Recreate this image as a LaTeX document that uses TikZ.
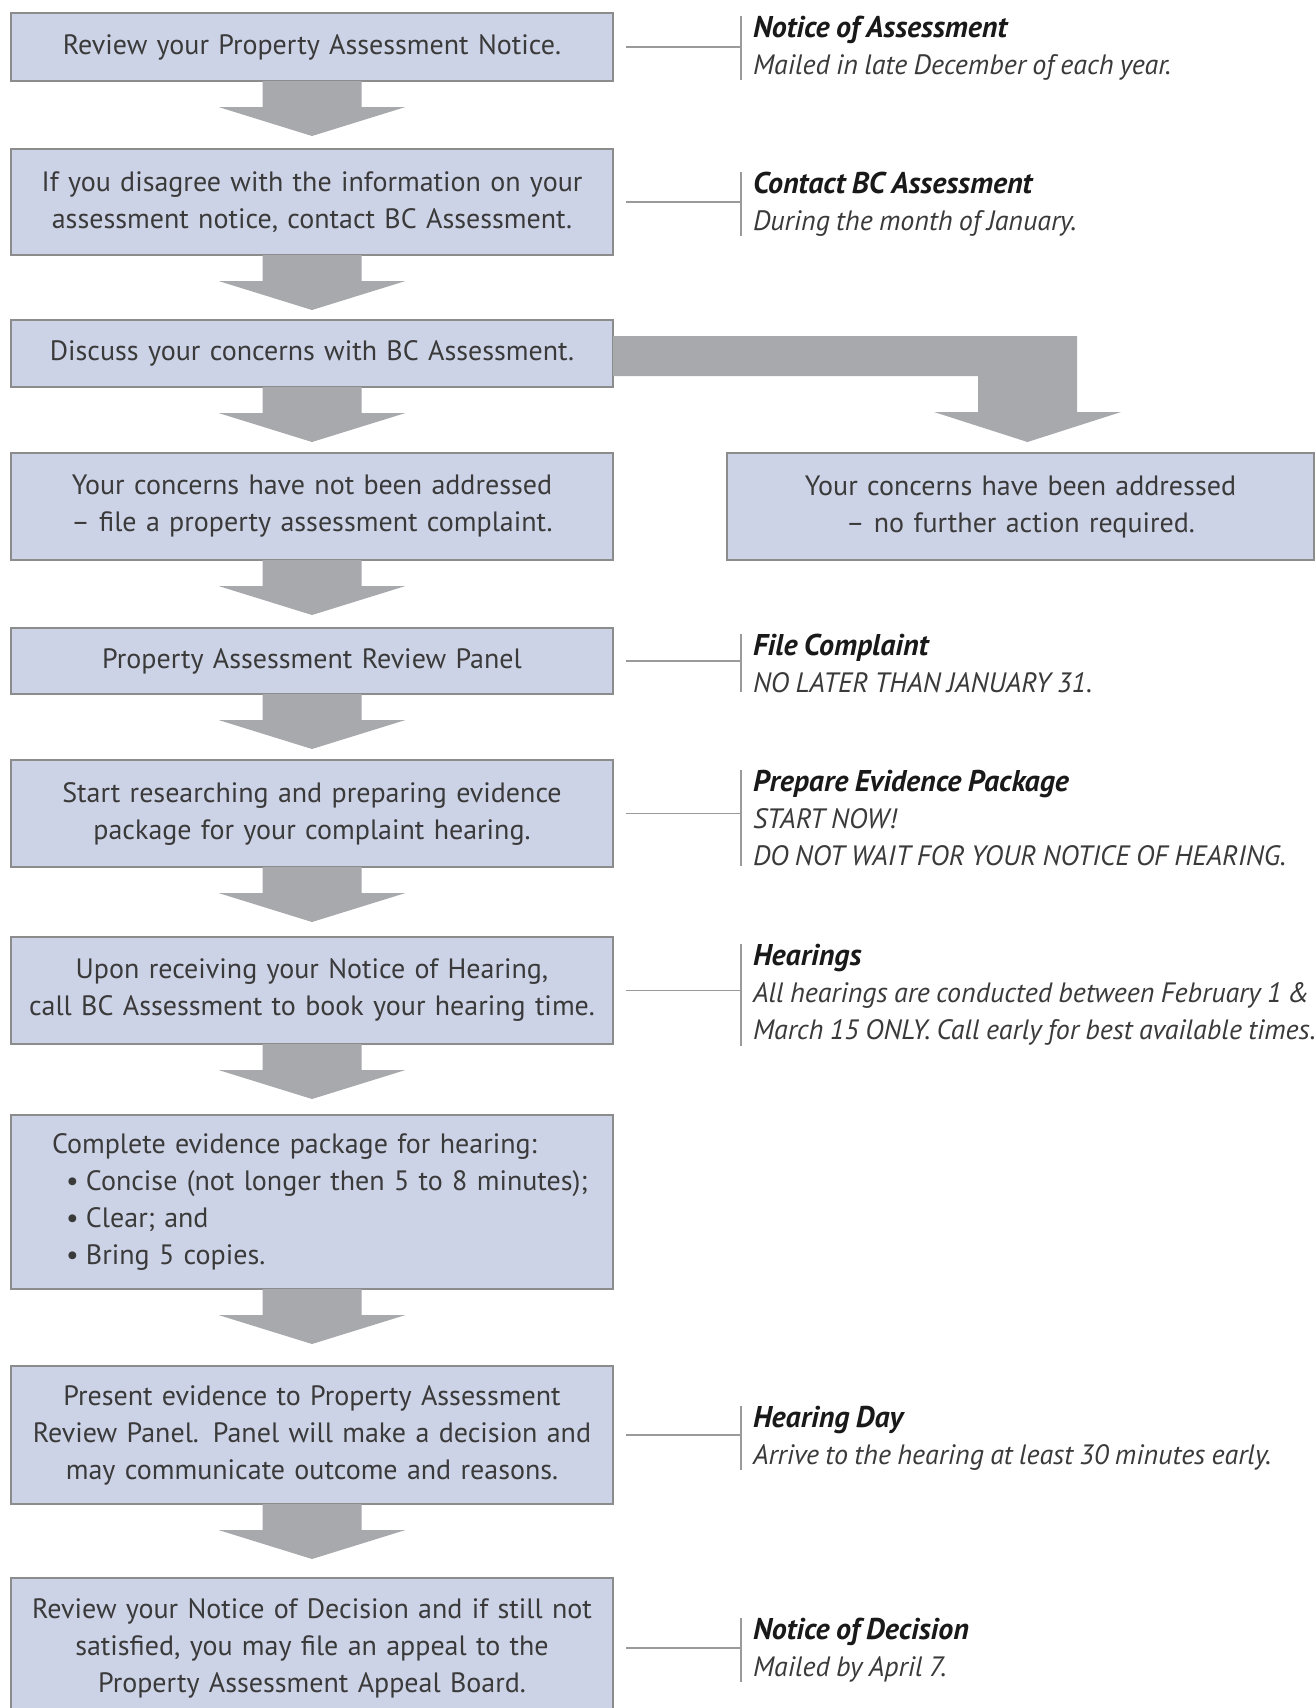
\documentclass[tikz,border=0pt]{standalone}
\usepackage{fontspec}
\setmainfont{PT Sans}[WordSpace=0.85]
\usetikzlibrary{calc}
\definecolor{boxfill}{HTML}{CDD3E6}
\definecolor{boxline}{HTML}{8C8C8C}
\definecolor{arrgray}{HTML}{A7A9AC}
\definecolor{txt}{HTML}{3A3A3A}
\definecolor{connc}{HTML}{9A9A9A}
\newcommand{\blockarr}[2]{\fill[arrgray] ($(#1.south)+(-49.5,0)$) -- ++(0,26) -- ++(-44,0) -- ++(93.5,29) -- ++(93.5,-29) -- ++(-44,0) -- ++(0,-26) -- cycle;}
\newcommand{\ttl}[1]{{\fontsize{30}{37}\selectfont\bfseries\itshape\color{black!90}#1}}
\newcommand{\ind}{\hspace*{35pt}}
\newcommand{\bul}{\hspace*{49pt}\makebox[20pt][l]{•}}
\begin{document}
\begin{tikzpicture}[x=1pt,y=-1pt,
  box/.style={draw=boxline, line width=1.2pt, fill=boxfill, minimum width=602pt,
    text width=590pt, align=center, inner sep=0pt, outer sep=0pt,
    font=\fontsize{28}{37}\selectfont, text=txt},
  note/.style={anchor=west, align=left, inner sep=0pt, outer sep=0pt,
    font=\fontsize{28}{37}\selectfont\itshape, text=txt},
  connline/.style={draw=connc, line width=1.1pt}]
\useasboundingbox (0,0) rectangle (1315,1708);
\clip (0,0) rectangle (1315,1708);
\fill[white] (0,0) rectangle (1315,1708);

% boxes
\node[box, minimum height=68pt] (b1) at (312,47) {Review your Property Assessment Notice.};
\node[box, minimum height=106pt] (b2) at (312,202) {If you disagree with the information on your\\assessment notice, contact BC Assessment.};
\node[box, minimum height=67pt] (b3) at (312,353.5) {Discuss your concerns with BC Assessment.};
\node[box, minimum height=107pt] (b4) at (312,506.5) {Your concerns have not been addressed\\– file a property assessment complaint.};
\node[box, minimum height=107pt, minimum width=587pt, text width=575pt] (r4) at (1020.5,506.5) {Your concerns have been addressed\\– no further action required.};
\node[box, minimum height=66pt] (b5) at (312,661) {Property Assessment Review Panel};
\node[box, minimum height=107pt] (b6) at (312,813.5) {Start researching and preparing evidence\\package for your complaint hearing.};
\node[box, minimum height=107pt] (b7) at (312,990.5) {Upon receiving your Notice of Hearing,\\call BC Assessment to book your hearing time.};
\node[box, minimum height=174pt, align=left] (b8) at (312,1202) {\ind Complete evidence package for hearing:\\
\bul Concise (not longer then 5 to 8 minutes);\\
\bul Clear; and\\
\bul Bring 5 copies.};
\node[box, minimum height=138pt] (b9) at (312,1435) {Present evidence to Property Assessment\\Review Panel. Panel will make a decision and\\may communicate outcome and reasons.};
\node[box, minimum height=140pt] (b10) at (312,1648) {Review your Notice of Decision and if still not\\satisfied, you may file an appeal to the\\Property Assessment Appeal Board.};

% down arrows
\blockarr{b1}{b2}
\blockarr{b2}{b3}
\blockarr{b3}{b4}
\blockarr{b4}{b5}
\blockarr{b5}{b6}
\blockarr{b6}{b7}
\blockarr{b7}{b8}
\blockarr{b8}{b9}
\blockarr{b9}{b10}

% branch arrow
\fill[arrgray] ($(b3.north east)+(0,16)$) -- (1077,336) -- (1077,412) -- (1121,412)
  -- ($(r4.north)+(7,-11)$) -- (934,412) -- (978,412) -- (978,376)
  -- ($(b3.south east)+(0,-11)$) -- cycle;

% annotations
\node[note] (n1) at (753,48) {\ttl{Notice of Assessment}\\Mailed in late December of each year.};
\node[note] (n2) at (753,204) {\ttl{Contact BC Assessment}\\During the month of January.};
\node[note] (n5) at (753,663) {\ttl{File Complaint}\\NO LATER THAN JANUARY 31.};
\node[note] (n6) at (753,818) {\ttl{Prepare Evidence Package}\\START NOW!\\DO NOT WAIT FOR YOUR NOTICE OF HEARING.};
\node[note] (n7) at (753,995) {\ttl{Hearings}\\All hearings are conducted between February 1 \&\\March 15 ONLY. Call early for best available times.};
\node[note] (n9) at (753,1438) {\ttl{Hearing Day}\\Arrive to the hearing at least 30 minutes early.};
\node[note] (n10) at (753,1650) {\ttl{Notice of Decision}\\Mailed by April 7.};

\foreach \b/\n in {b1/n1, b2/n2, b5/n5, b6/n6, b7/n7, b9/n9, b10/n10}{
  \coordinate (\n bt) at ([xshift=-12pt]\n.north west);
  \coordinate (\n bb) at ([xshift=-12pt]\n.south west);
  \coordinate (\n s) at ([xshift=13pt]\b.east);
  \draw[connline] (\n bt) -- (\n bb);
  \draw[connline] (\n s) -- (\n s -| \n bt);
}
\end{tikzpicture}
\end{document}
